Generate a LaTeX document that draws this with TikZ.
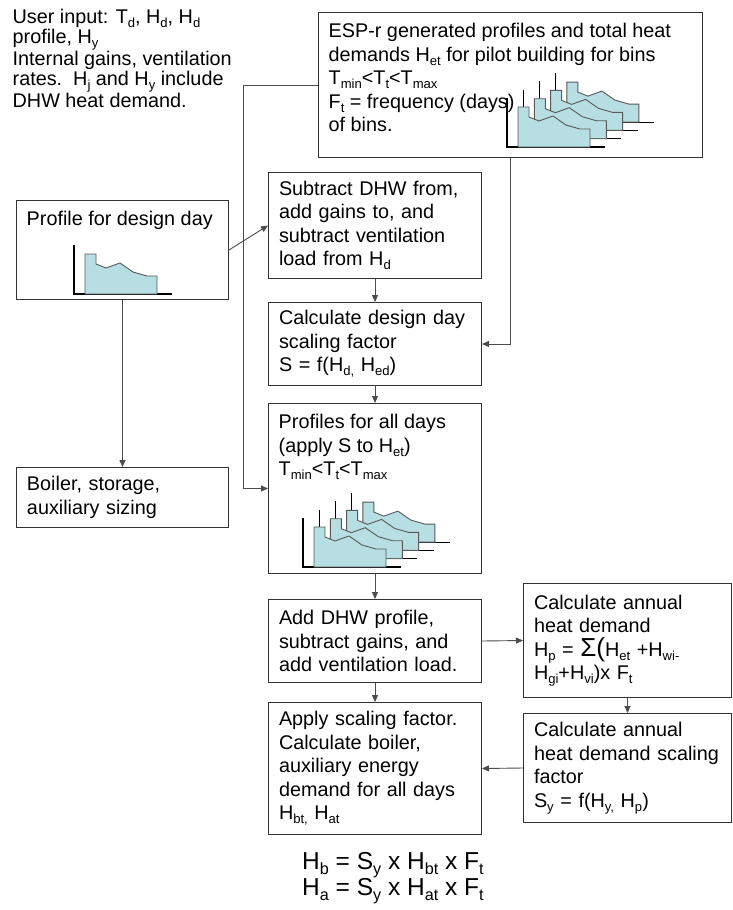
\documentclass[tikz,border=0pt]{standalone}
\usepackage{fontspec}
\setmainfont{Liberation Sans}
\usepackage{xcolor}
\usetikzlibrary{arrows.meta,positioning}
\definecolor{profilefill}{RGB}{183,222,226}
\newcommand{\boxfont}{\fontsize{19.8}{23.5}\selectfont}
\newcommand{\lowsub}[1]{\raisebox{-0.2em}{\scalebox{0.66}{#1}}}

\begin{document}
\begin{tikzpicture}[x=1pt,y=-1pt,
  box/.style={draw=black!80,line width=1pt,anchor=north west,align=left,
    inner xsep=10.5pt,inner ysep=0pt,font=\boxfont},
  boxtext/.style={anchor=north west,align=left,inner sep=0pt,font=\boxfont},
  flow/.style={draw=black!70,line width=0.9pt,-{Triangle[length=7pt,width=6pt]}},
  axisline/.style={draw=black,line width=1.1pt},
  curvefill/.style={fill=profilefill,draw=black!65,line width=0.9pt},
  loadprofile/.pic={
    \draw[axisline](0,-49)--(0,0)--(98,0);
    \filldraw[curvefill](11,0)--(11,-40)--(22,-40)--(22,-30)--(32,-26)--(46,-31)
      --(59,-22)--(73,-18)--(83,-18)--(83,0)--cycle;}]
\fill[white](0,0) rectangle (733,910);
\useasboundingbox (0,0) rectangle (733,910);

% user input note
\node[boxtext,font=\fontsize{19.8}{20}\selectfont] (userin) at (12.5,9)
  {User input: T\lowsub{d}, H\lowsub{d}, H\lowsub{d}\\ profile, H\lowsub{y}\\
   Internal gains, ventilation\\ rates.\ \ H\lowsub{j} and H\lowsub{y} include\\
   DHW heat demand.};

% ESP-r profiles
\node[box,text width=363pt,minimum height=145pt] (esp) at (318,12) {};
\foreach \k in {3,2,1,0}
  \pic at (507+16.3*\k,147-8.3*\k) {loadprofile};
\node[boxtext] (esptext) at (328.5,23)
  {ESP-r generated profiles and total heat\\
   demands H\lowsub{et} for pilot building for bins\\
   T\lowsub{min}<T\lowsub{t}<T\lowsub{max}\\
   F\lowsub{t} = frequency (days)\\ of bins.};

% design day
\node[box,text width=191pt,minimum height=99pt] (design) at (16,200) {};
\pic at (74,294) {loadprofile};
\node[boxtext] (designtext) at (26.5,211) {Profile for design day};

\node[box,text width=191pt,minimum height=60pt] (boiler) at (16,467)
  {Boiler, storage,\\ auxiliary sizing};

% middle column
\node[box,text width=192pt,minimum height=106pt] (sub) at (268,172)
  {Subtract DHW from,\\ add gains to, and\\ subtract ventilation\\ load from H\lowsub{d}};
\node[box,text width=192pt,minimum height=83pt] (calc) at (268,302)
  {Calculate design day\\ scaling factor\\ S = f(H\lowsub{d,} H\lowsub{ed})};
\node[box,text width=192pt,minimum height=170pt] (allday) at (268,403) {};
\foreach \k in {3,2,1,0}
  \pic at (303+16.3*\k,567-8.3*\k) {loadprofile};
\node[boxtext] (alldaytext) at (278.5,414)
  {Profiles for all days\\ (apply S to H\lowsub{et})\\ T\lowsub{min}<T\lowsub{t}<T\lowsub{max}};
\node[box,text width=192pt,minimum height=83pt] (adddhw) at (268,599)
  {Add DHW profile,\\ subtract gains, and\\ add ventilation load.};
\node[box,text width=192pt,minimum height=132pt] (apply) at (268,702)
  {Apply scaling factor.\\ Calculate boiler,\\ auxiliary energy\\
   demand for all days\\ H\lowsub{bt,} H\lowsub{at}};

% right column
\node[box,text width=187pt,minimum height=114pt] (annual) at (523,583)
  {Calculate annual\\ heat demand\\
   H\lowsub{p} = {\fontsize{26}{23.5}\selectfont Σ(}H\lowsub{et} +H\lowsub{wi-}\\
   H\lowsub{gi}+H\lowsub{vi})x F\lowsub{t}};
\node[box,text width=187pt,minimum height=109pt] (scaling) at (523,713)
  {Calculate annual\\ heat demand scaling\\ factor\\ S\lowsub{y} = f(H\lowsub{y,} H\lowsub{p})};

\node[boxtext,font=\fontsize{24.5}{22.5}\selectfont] (totals) at (302,852)
  {H\lowsub{b} = S\lowsub{y} x H\lowsub{bt} x F\lowsub{t}\\
   H\lowsub{a} = S\lowsub{y} x H\lowsub{at} x F\lowsub{t}};

% connectors
\draw[flow](esp.west)--++(-75,0)|-(allday.west);
\draw[flow](esp.south)|-(calc.east);
\draw[flow](design.east)--(sub.west);
\draw[flow](design.south)--(boiler.north);
\draw[flow](sub.south)--(calc.north);
\draw[flow](calc.south)--(allday.north);
\draw[flow](allday.south)--(adddhw.north);
\draw[flow](adddhw.south)--(apply.north);
\draw[flow](adddhw.east)--(annual.west);
\draw[flow](annual.south)--(scaling.north);
\draw[flow](scaling.west)--(apply.east);
\end{tikzpicture}
\end{document}
